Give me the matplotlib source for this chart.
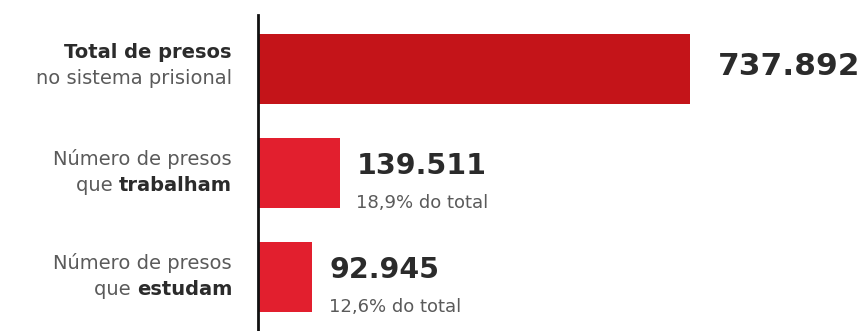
import numpy as np
import matplotlib.pyplot as plt

# dados
label_normal = ["no sistema prisional", "Número de presos", "Número de presos"]
label_bold = ["Total de presos", "trabalham", "estudam"]
valores = [737892, 139511, 92945]
valor_txt = ["737.892", "139.511", "92.945"]
percent_txt = [None, "18,9% do total", "12,6% do total"]
cores = ["#C41419", "#E21F2E", "#E21F2E"]

plt.rcParams['font.family'] = ['DejaVu Sans']
escuro = "#2b2b2b"
cinza = "#5a5a5a"

fig = plt.figure(figsize=(8.64, 3.31), dpi=100)
ax = fig.add_axes([258/864, 0, 1 - 258/864, 1 - 15/331])

y = np.arange(len(valores))
ax.barh(y, valores, height=0.67, color=cores)
ax.set_ylim(2.52, -0.52)
ax.set_xlim(0, 1.035e6)

for s in ["top", "right", "bottom"]:
    ax.spines[s].set_visible(False)
ax.spines["left"].set_linewidth(2)
ax.spines["left"].set_color("#111111")
ax.set_xticks([])
ax.set_yticks([])

# rotulos a esquerda
fs = 14
xl = -26 / 864 / (1 - 258/864)  # em fracao do eixo
tr = ax.get_yaxis_transform()
for i in range(len(valores)):
    if i == 0:
        ax.text(xl, i - 0.16, label_bold[i], transform=tr, ha="right", va="center",
                fontsize=fs, fontweight="bold", color=escuro)
        ax.text(xl, i + 0.09, label_normal[i], transform=tr, ha="right", va="center",
                fontsize=fs, color=cinza)
    else:
        ax.text(xl, i - 0.13, label_normal[i], transform=tr, ha="right", va="center",
                fontsize=fs, color=cinza)
        b = ax.text(xl, i + 0.12, label_bold[i], transform=tr, ha="right", va="center",
                    fontsize=fs, fontweight="bold", color=escuro)
        ax.annotate("que ", xy=(0, 0), xycoords=b, ha="right", va="bottom",
                    fontsize=fs, color=cinza)

# valores
for i, v in enumerate(valores):
    if percent_txt[i] is None:
        ax.annotate(valor_txt[i], xy=(v, i - 0.02), xytext=(20, 0), textcoords="offset points",
                    ha="left", va="center", fontsize=22.5, fontweight="bold", color=escuro)
    else:
        ax.annotate(valor_txt[i], xy=(v, i - 0.07), xytext=(12, 0), textcoords="offset points",
                    ha="left", va="center", fontsize=20.5, fontweight="bold", color=escuro)
        ax.annotate(percent_txt[i], xy=(v, i + 0.29), xytext=(12, 0), textcoords="offset points",
                    ha="left", va="center", fontsize=13, color=cinza)

fig.savefig("out.png", dpi=100)
